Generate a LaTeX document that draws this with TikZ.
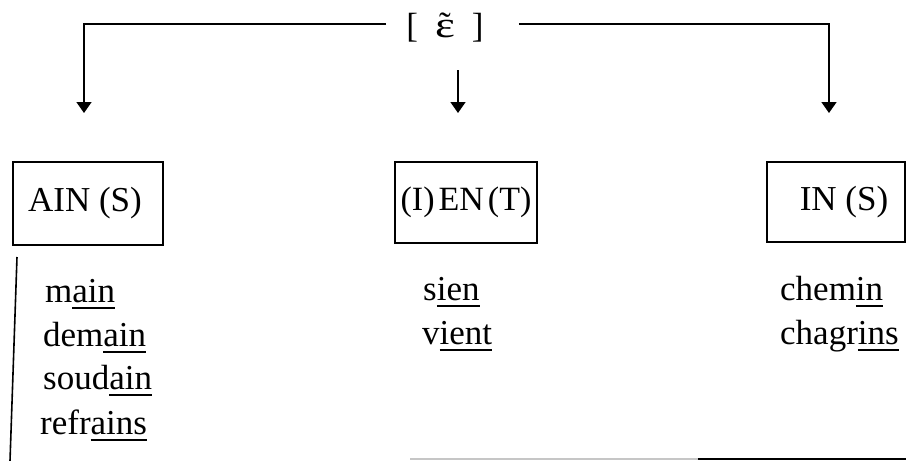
\documentclass[tikz,border=0pt]{standalone}
\usepackage{fontspec}
\usepackage{graphicx}
\setmainfont{Liberation Serif}
\usetikzlibrary{arrows.meta}
\newcommand\myul[1]{\setbox0=\hbox{#1}\rlap{\rule[-6.5pt]{\wd0}{1.8pt}}\box0}
\newcommand\nasaleps{\ooalign{\scalebox{1.35}[1.05]{ε}\cr\hidewidth\raisebox{1pt}{˜}\hidewidth\cr}}
\begin{document}
\begin{tikzpicture}[x=1pt,y=-1pt,
  every node/.style={font=\fontsize{35}{42}\selectfont, inner sep=0pt},
  box/.style={draw, line width=1.6pt},
  conn/.style={line width=1.6pt},
  arr/.style={conn, -{Triangle[width=15pt,length=11pt]}},
  word/.style={anchor=base west}]
\useasboundingbox (0,0) rectangle (906,461);
% top label
\node[anchor=base] (top) at (445,37) {[\hspace{17pt}\nasaleps\hspace{17pt}]};
\coordinate (aL) at (84,113);
\coordinate (aR) at (829,113);
\coordinate (cs) at (458,70);
\coordinate (aC) at (458,113);
\draw[arr] ([xshift=-20pt,yshift=3pt]top.west) -| (aL);
\draw[arr] ([xshift=35pt,yshift=3pt]top.east) -| (aR);
\draw[arr] (cs) -- (aC);
% boxes
\node[box, minimum width=150pt, minimum height=83pt] (b1) at (88,203.5) {\hspace*{-6pt}AIN (S)};
\node[box, minimum width=142pt, minimum height=81pt, font=\fontsize{34}{40}\selectfont] (b2) at (466,202.5) {(I)\hspace{4pt}EN\hspace{4pt}(T)};
\node[box, minimum width=138pt, minimum height=80pt] (b3) at (836,202) {\hspace*{16pt}IN (S)};
% word lists
\node[word] (m1) at (45,302) {m\myul{ain}};
\node[word] (m2) at (43,346) {dem\myul{ain}};
\node[word] (m3) at (43,389) {soud\myul{ain}};
\node[word] (m4) at (40,434) {refr\myul{ains}};
\node[word] (c1) at (423,300) {s\myul{ien}};
\node[word] (c2) at (422,344) {v\myul{ient}};
\node[word] (r1) at (780,300) {chem\myul{in}};
\node[word] (r2) at (780,344) {chagr\myul{ins}};
% side bar and bottom line
\draw[conn] (17,257) -- (10,461);
\draw[line width=1.6pt, gray!45] (410,459) -- (698,459);
\draw[line width=1.8pt] (698,459) -- (906,459);
\end{tikzpicture}
\end{document}
